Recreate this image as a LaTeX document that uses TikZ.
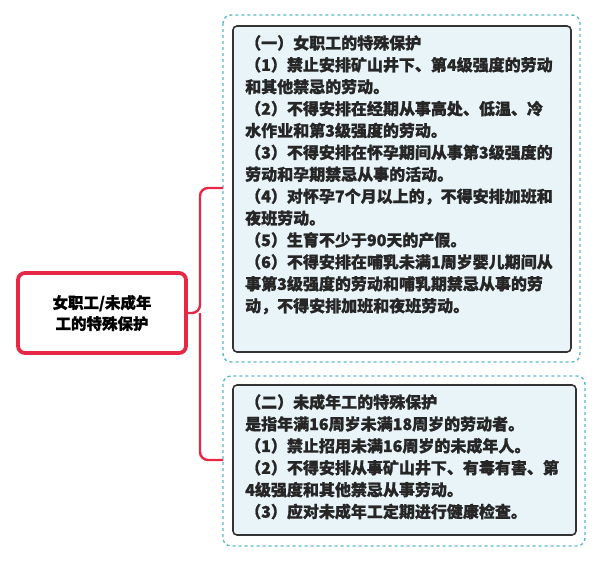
\documentclass[tikz,border=0pt]{standalone}
\usepackage{fontspec}
\newfontfamily\cjk{Noto Sans CJK SC}[FakeBold=1]
\definecolor{conncol}{RGB}{230,40,70}
\definecolor{dashcol}{RGB}{90,185,200}
\definecolor{boxfill}{RGB}{232,244,247}
\begin{document}
\begin{tikzpicture}[x=1pt,y=-1pt,
  outerbox/.style={draw=dashcol, dashed, line width=1.4pt, rounded corners=8pt, fill=white},
  innerbox/.style={draw=black!80, line width=1.6pt, rounded corners=4pt, fill=boxfill},
  txt/.style={anchor=north west, inner sep=0pt, align=left, font=\cjk\bfseries\fontsize{16}{21.9}\selectfont, text=black!85},
  conn/.style={draw=conncol, line width=2.4pt}]
\useasboundingbox (0,0) rectangle (603,562);
\node[draw=conncol, line width=3.8pt, rounded corners=7pt, fill=white, minimum width=168, minimum height=80, align=center, font=\cjk\bfseries\fontsize{15.5}{21}\selectfont] (root) at (102,313) {女职工/未成年\\工的特殊保护};
\draw[outerbox] (223,15) rectangle (580,362);
\draw[innerbox] (233,26) rectangle (571,352);
\draw[outerbox] (223,376) rectangle (585,546);
\draw[innerbox] (233,385) rectangle (576,535);
\coordinate (a) at (223,188);
\coordinate (b) at (223,460);
\draw[conn, rounded corners=8pt] (root.east) -- (200,313) |- (a);
\draw[conn, rounded corners=8pt] (200,313) |- (b);
\node[txt] (t1) at (245,35) {（一）女职工的特殊保护\\（1）禁止安排矿山井下、第4级强度的劳动\\和其他禁忌的劳动。\\（2）不得安排在经期从事高处、低温、冷\\水作业和第3级强度的劳动。\\（3）不得安排在怀孕期间从事第3级强度的\\劳动和孕期禁忌从事的活动。\\（4）对怀孕7个月以上的，不得安排加班和\\夜班劳动。\\（5）生育不少于90天的产假。\\（6）不得安排在哺乳未满1周岁婴儿期间从\\事第3级强度的劳动和哺乳期禁忌从事的劳\\动，不得安排加班和夜班劳动。};
\node[txt] (t2) at (245,394) {（二）未成年工的特殊保护\\是指年满16周岁未满18周岁的劳动者。\\（1）禁止招用未满16周岁的未成年人。\\（2）不得安排从事矿山井下、有毒有害、第\\4级强度和其他禁忌从事劳动。\\（3）应对未成年工定期进行健康检查。};
\end{tikzpicture}
\end{document}
